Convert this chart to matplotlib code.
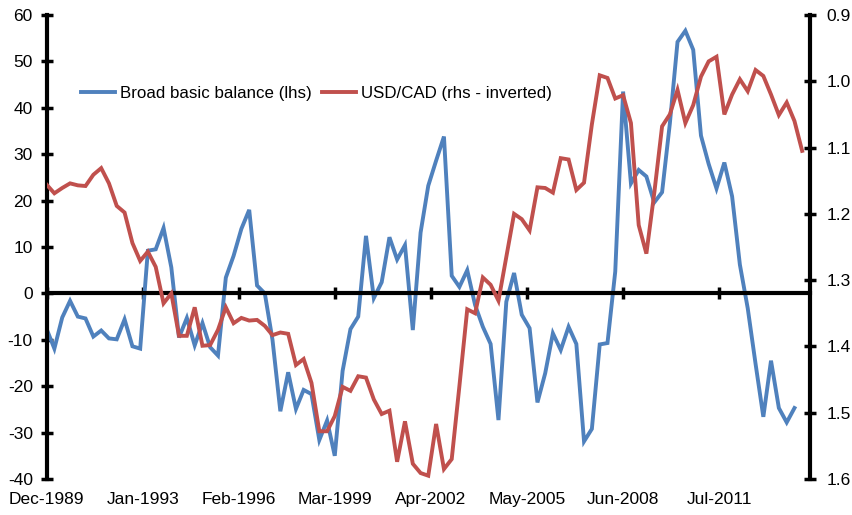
import matplotlib
matplotlib.use('Agg')
import matplotlib.pyplot as plt
import matplotlib.dates as mdates
import pandas as pd

plt.rcParams['font.family'] = ['Liberation Sans', 'DejaVu Sans']
plt.rcParams['axes.unicode_minus'] = False

# quarterly data, Dec-1989 onwards
dates = pd.date_range('1989-12-01', periods=98, freq='3MS')

basic_balance = [
    -7.7, -11.9, -5.2, -1.6, -5.0, -5.4, -9.3, -8.0, -9.7, -9.9,
    -5.6, -11.4, -11.9, 9.2, 9.5, 14.1, 5.6, -9.5, -5.3, -11.2,
    -6.4, -11.6, -13.4, 3.4, 8.1, 13.9, 18.0, 1.7, 0.0, -10.0,
    -25.4, -17.0, -24.9, -20.8, -21.7, -31.6, -27.4, -35.0, -16.7, -7.7,
    -5.0, 12.4, -1.0, 2.4, 12.1, 7.3, 10.4, -7.9, 13.1, 23.2,
    28.6, 33.8, 3.8, 1.4, 5.0, -2.5, -7.2, -10.9, -27.3, -1.8,
    4.4, -4.6, -7.5, -23.5, -17.2, -8.6, -12.2, -7.2, -10.9, -31.9,
    -29.2, -11.0, -10.7, 4.7, 43.5, 23.7, 26.6, 25.2, 19.6, 21.8,
    36.6, 54.2, 56.6, 52.5, 34.0, 27.9, 22.6, 28.2, 20.9, 6.2,
    -3.2, -15.2, -26.6, -14.5, -24.7, -27.8, -24.7,
]

usdcad = [
    1.156, 1.169, 1.161, 1.154, 1.157, 1.158, 1.141, 1.131, 1.154, 1.188,
    1.198, 1.244, 1.271, 1.257, 1.280, 1.335, 1.320, 1.384, 1.384, 1.341,
    1.399, 1.398, 1.375, 1.341, 1.365, 1.357, 1.361, 1.360, 1.369, 1.383,
    1.379, 1.381, 1.428, 1.419, 1.455, 1.528, 1.528, 1.505, 1.461, 1.467,
    1.445, 1.447, 1.480, 1.502, 1.497, 1.574, 1.513, 1.577, 1.591, 1.595,
    1.517, 1.585, 1.570, 1.460, 1.344, 1.350, 1.296, 1.307, 1.331, 1.265,
    1.200, 1.208, 1.225, 1.160, 1.161, 1.168, 1.116, 1.118, 1.164, 1.153,
    1.065, 0.991, 0.995, 1.026, 1.021, 1.063, 1.217, 1.260, 1.169, 1.068,
    1.050, 1.013, 1.063, 1.036, 0.993, 0.970, 0.963, 1.050, 1.020, 0.997,
    1.015, 0.983, 0.992, 1.020, 1.051, 1.032, 1.060, 1.105,
]

tick_dates = pd.date_range('1989-12-01', periods=8, freq='37MS')
left_ticks = list(range(-40, 61, 10))
right_ticks = [0.9, 1.0, 1.1, 1.2, 1.3, 1.4, 1.5, 1.6]

blue = '#4F81BD'
red = '#C0504D'
fs = 12.5

fig = plt.figure(figsize=(8.52, 5.15), dpi=100)
ax = fig.add_axes([0.0548, 0.0699, 0.8959, 0.901])
ax2 = ax.twinx()

l1, = ax.plot(dates[:len(basic_balance)], basic_balance, color=blue, lw=2.8,
              solid_joinstyle='miter', label='Broad basic balance (lhs)')
l2, = ax2.plot(dates, usdcad, color=red, lw=2.8,
               solid_joinstyle='miter', label='USD/CAD (rhs - inverted)')

ax.set_xlim(pd.Timestamp('1989-12-01'), pd.Timestamp('2014-06-01'))
ax.set_ylim(-40, 60)
ax2.set_ylim(1.6, 0.9)

# zero line carries the date ticks, labels sit at the bottom
ax.spines['bottom'].set_position(('data', 0))
ax.spines['bottom'].set_linewidth(3)
ax.spines['top'].set_visible(False)
ax.spines['right'].set_visible(False)
ax.spines['left'].set_linewidth(3)
ax.set_xticks(tick_dates)
ax.tick_params(axis='x', direction='inout', length=8, width=2.5, labelbottom=False)

sec = ax.secondary_xaxis('bottom')
sec.set_xticks(tick_dates)
sec.xaxis.set_major_formatter(mdates.DateFormatter('%b-%Y'))
sec.tick_params(length=0, pad=9, labelsize=fs)
sec.spines['bottom'].set_visible(False)

ax.set_yticks(left_ticks)
ax.tick_params(axis='y', direction='inout', length=8, width=2.5, pad=6, labelsize=fs)

for s in ['top', 'bottom', 'left']:
    ax2.spines[s].set_visible(False)
ax2.spines['right'].set_linewidth(3)
ax2.set_yticks(right_ticks)
ax2.set_yticklabels(['%.1f' % v for v in right_ticks])
ax2.tick_params(axis='y', direction='inout', length=8, width=2.5, pad=8, labelsize=fs)

fig.legend(handles=[l1, l2], loc='center left', bbox_to_anchor=(0.085, 0.819),
           ncol=2, frameon=False, fontsize=12.2, borderpad=0, handlelength=2.0,
           handletextpad=0.3, columnspacing=0.6)

fig.savefig('out.png', dpi=100)
